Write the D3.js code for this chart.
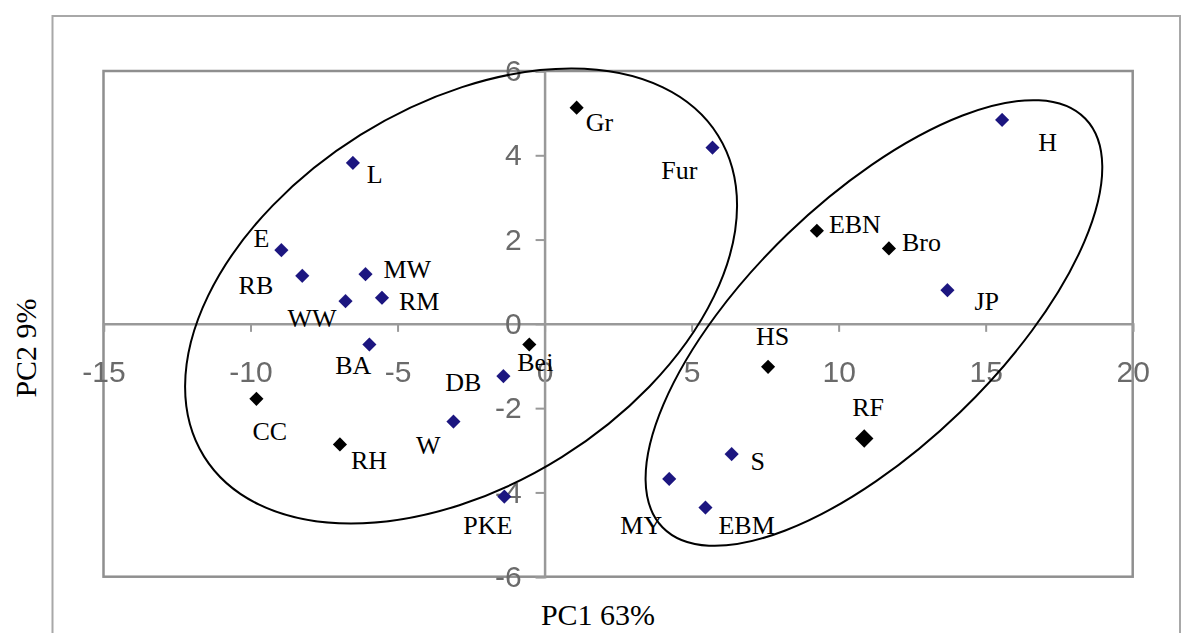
<!DOCTYPE html>
<html>
<head>
<meta charset="utf-8">
<script src="https://cdn.jsdelivr.net/npm/d3@7"></script>
<style>
  html, body { margin: 0; padding: 0; background: #fff; }
  svg { display: block; }
</style>
</head>
<body>
<div id="chart"></div>
<script>
// PCA scores
const samples = ['L', 'E', 'RB', 'MW', 'WW', 'RM', 'Gr', 'Fur', 'H', 'EBN', 'Bro', 'JP',
  'BA', 'Bei', 'DB', 'CC', 'W', 'RH', 'PKE', 'HS', 'RF', 'S', 'MY', 'EBM'];
const pc1 = [-6.52, -8.95, -8.24, -6.09, -6.77, -5.53, 1.09, 5.71, 15.56, 9.26, 11.71, 13.70,
  -5.96, -0.52, -1.40, -9.80, -3.10, -6.96, -1.37, 7.60, 10.87, 6.36, 4.24, 5.47];
const pc2 = [3.82, 1.75, 1.14, 1.18, 0.54, 0.62, 5.13, 4.18, 4.84, 2.21, 1.79, 0.80,
  -0.49, -0.49, -1.24, -1.78, -2.32, -2.86, -4.10, -1.02, -2.72, -3.09, -3.68, -4.36];
// 'b' = blue marker, 'k' = black marker
const markerType = ['b', 'b', 'b', 'b', 'b', 'b', 'k', 'b', 'b', 'k', 'k', 'b',
  'b', 'k', 'b', 'k', 'b', 'k', 'b', 'k', 'k', 'b', 'b', 'b'];
const xTicks = [-15, -10, -5, 0, 5, 10, 15, 20];
const yTicks = [-6, -4, -2, 0, 2, 4, 6];

// label placement next to each marker: [anchor, dx, dy]
const labelPlace = {
  L: ['start', 14, 20], E: ['end', -12, -3], RB: ['end', -29, 18], MW: ['start', 18, 4],
  WW: ['end', -9, 26], RM: ['start', 17, 12], Gr: ['start', 9, 23], Fur: ['end', -15, 31],
  H: ['start', 36, 31], EBN: ['start', 12, 2], Bro: ['start', 13, 3], JP: ['start', 27, 20],
  BA: ['middle', -16, 30], Bei: ['start', -12, 27], DB: ['end', -22, 15], CC: ['start', -4, 41],
  W: ['end', -13, 32], RH: ['start', 11, 25], PKE: ['end', 8, 37], HS: ['start', -12, -22],
  RF: ['start', -12, -22], S: ['start', 19, 16], MY: ['end', -7, 55], EBM: ['start', 13, 26]
};

// group outlines (centre in data units, radii in px, rotation in degrees)
const groups = [
  {cx: -2.84, cy: 0.66, rx: 303, ry: 190, rot: -32},
  {cx: 11.2, cy: 0.02, rx: 294, ry: 124, rot: -44}
];

const W = 1182, H = 633;
const plot = {left: 103.5, right: 1132.7, top: 71, bottom: 576.7};

const svg = d3.select('#chart').append('svg')
  .attr('width', W)
  .attr('height', H);

const defs = svg.append('defs');
defs.append('filter').attr('id', 'soft')
  .append('feGaussianBlur').attr('stdDeviation', 0.7);

// outer chart frame
svg.append('rect')
  .attr('x', 52.5).attr('y', 16)
  .attr('width', 1127.5).attr('height', 640)
  .attr('fill', 'none')
  .attr('stroke', '#a8a8a8')
  .attr('stroke-width', 2);

const x = d3.scaleLinear().domain([-15, 20]).range([plot.left, plot.right]);
const y = d3.scaleLinear().domain([-6, 6]).range([plot.bottom, plot.top]);

// plot area frame
svg.append('rect')
  .attr('x', plot.left).attr('y', plot.top)
  .attr('width', plot.right - plot.left)
  .attr('height', plot.bottom - plot.top)
  .attr('fill', 'none')
  .attr('stroke', '#8f8f8f')
  .attr('stroke-width', 2.5);

// axes crossing at zero
const xAxis = svg.append('g')
  .attr('transform', `translate(0,${y(0)})`)
  .call(d3.axisBottom(x).tickValues(xTicks).tickSize(8).tickPadding(29).tickFormat(d3.format('d')));

const yAxis = svg.append('g')
  .attr('transform', `translate(${x(0)},0)`)
  .call(d3.axisLeft(y).tickValues(yTicks).tickSize(9).tickPadding(14).tickFormat(d3.format('d')));

[xAxis, yAxis].forEach(ax => {
  ax.select('.domain').attr('stroke', '#999').attr('stroke-width', 2.5);
  ax.selectAll('.tick line').attr('stroke', '#999').attr('stroke-width', 2);
  ax.selectAll('.tick text')
    .attr('fill', '#6a6a6a')
    .attr('filter', 'url(#soft)')
    .style('font-family', 'Arial, "Liberation Sans", sans-serif')
    .style('font-size', '30px')
    .text(d => d < 0 ? '-' + Math.abs(d) : d);
});

// group ellipses
svg.append('g').selectAll('ellipse')
  .data(groups)
  .enter()
  .append('ellipse')
  .attr('cx', d => x(d.cx))
  .attr('cy', d => y(d.cy))
  .attr('rx', d => d.rx)
  .attr('ry', d => d.ry)
  .attr('transform', d => `rotate(${d.rot},${x(d.cx)},${y(d.cy)})`)
  .attr('fill', 'none')
  .attr('stroke', '#000')
  .attr('stroke-width', 2);

const points = samples.map((name, i) => ({name, pc1: pc1[i], pc2: pc2[i], type: markerType[i]}));

// diamond markers
svg.append('g').selectAll('path')
  .data(points)
  .enter()
  .append('path')
  .attr('d', d => d3.symbol().type(d3.symbolSquare).size(d.name === 'RF' ? 170 : 100)())
  .attr('transform', d => `translate(${x(d.pc1)},${y(d.pc2)}) rotate(45)`)
  .attr('fill', d => d.type === 'b' ? '#1d1480' : '#000')
  .attr('filter', d => d.type === 'b' ? 'url(#soft)' : null);

// sample labels
svg.append('g').selectAll('text')
  .data(points)
  .enter()
  .append('text')
  .attr('x', d => x(d.pc1) + labelPlace[d.name][1])
  .attr('y', d => y(d.pc2) + labelPlace[d.name][2])
  .attr('text-anchor', d => labelPlace[d.name][0])
  .style('font-family', '"Liberation Serif", "Times New Roman", serif')
  .style('font-size', '26px')
  .style('fill', '#000')
  .text(d => d.name);

// axis titles
svg.append('text')
  .attr('x', 598)
  .attr('y', 625)
  .attr('text-anchor', 'middle')
  .style('font-family', '"Liberation Serif", "Times New Roman", serif')
  .style('font-size', '30px')
  .text('PC1 63%');

svg.append('text')
  .attr('transform', 'translate(36,348) rotate(-90)')
  .attr('text-anchor', 'middle')
  .style('font-family', '"Liberation Serif", "Times New Roman", serif')
  .style('font-size', '30px')
  .text('PC2 9%');
</script>
</body>
</html>
